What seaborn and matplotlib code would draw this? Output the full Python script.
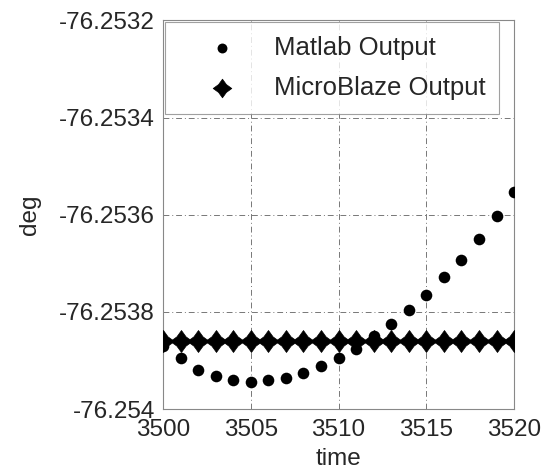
import numpy as np
import pandas as pd
import matplotlib
matplotlib.use("Agg")
import matplotlib.pyplot as plt
import seaborn as sns
from matplotlib.path import Path

time = list(range(3500, 3521))
matlab_output = [-76.253870, -76.253894, -76.253920, -76.253932, -76.253941, -76.253944,
                 -76.253941, -76.253936, -76.253925, -76.253911, -76.253895, -76.253876,
                 -76.253850, -76.253825, -76.253797, -76.253766, -76.253729, -76.253693,
                 -76.253650, -76.253603, -76.253554]
microblaze_output = [-76.25386] * 21
yticks = [-76.2532, -76.2534, -76.2536, -76.2538, -76.254]
ytick_labels = ["-76.2532", "-76.2534", "-76.2536", "-76.2538", "-76.254"]
xticks = [3500, 3505, 3510, 3515, 3520]

sns.set_style("white")
plt.rcParams['font.family'] = ['Liberation Sans', 'DejaVu Sans']

star = Path([(0, 1), (0.42, 0.42), (1, 0), (0.42, -0.42), (0, -1), (-0.42, -0.42),
             (-1, 0), (-0.42, 0.42), (0, 1)], closed=True)

fig = plt.figure(figsize=(5.51, 4.73), dpi=100)
ax = fig.add_axes([0.296, 0.135, 0.637, 0.822])

df_m = pd.DataFrame({"time": time, "deg": matlab_output})
df_b = pd.DataFrame({"time": time, "deg": microblaze_output})

sns.scatterplot(data=df_b, x="time", y="deg", marker=star, s=250, color="black",
                edgecolor="black", linewidth=0.5, ax=ax, label="MicroBlaze Output", zorder=3)
sns.scatterplot(data=df_m, x="time", y="deg", marker="o", s=70, color="black",
                edgecolor="black", linewidth=0, ax=ax, label="Matlab Output", zorder=4)

ax.set_xlim(3500, 3520)
ax.set_ylim(-76.2540, -76.2532)
ax.set_xticks(xticks)
ax.set_xticklabels([str(t) for t in xticks])
ax.set_yticks(yticks)
ax.set_yticklabels(ytick_labels)
ax.tick_params(axis='y', labelsize=17.5, length=0, pad=6)
ax.tick_params(axis='x', labelsize=17.5, length=0, pad=7)
ax.set_xlabel("time", fontsize=17.5, labelpad=5)
ax.set_ylabel("deg", fontsize=17.5, labelpad=13)
ax.grid(True, color="#777777", linestyle=(0, (6, 3, 1, 3)), linewidth=0.7)
for sp in ax.spines.values():
    sp.set_color("#888888")
    sp.set_linewidth(0.8)

handles, labels = ax.get_legend_handles_labels()
order = [labels.index("Matlab Output"), labels.index("MicroBlaze Output")]
leg = ax.legend([handles[i] for i in order], [labels[i] for i in order],
                loc="upper left", bbox_to_anchor=(0.006, 0.997, 0.95, 0.0), mode="expand",
                fontsize=18.5, frameon=True, fancybox=False, edgecolor="#888888",
                borderpad=0.55, labelspacing=0.62, handlelength=3.3, handletextpad=0.4,
                markerscale=0.85, borderaxespad=0.0)
leg.get_frame().set_linewidth(0.8)

fig.savefig("out.png", dpi=100, facecolor="white")
